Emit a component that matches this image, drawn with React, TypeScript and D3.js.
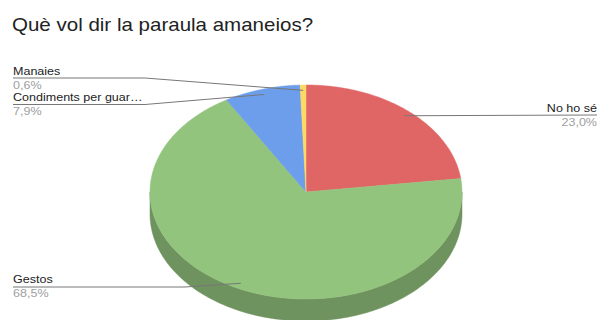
import React from "react";
import * as d3 from "d3";

const title = "Què vol dir la paraula amaneios?";
const categories = ["No ho sé", "Gestos", "Condiments per guar…", "Manaies"];
const values = [23.0, 68.5, 7.9, 0.6];
const percentLabels = ["23,0%", "68,5%", "7,9%", "0,6%"];
const colors = ["#e06666", "#93c47d", "#6d9eeb", "#ffd966"];

const labelLayout = [
  { x: 597, y: 112, lineY: 115, elbow: 597, anchor: "end" },
  { x: 13, y: 283, lineY: 287, elbow: 185, anchor: "start" },
  { x: 13, y: 101, lineY: 104.5, elbow: 145, anchor: "start" },
  { x: 13, y: 75, lineY: 78, elbow: 145, anchor: "start" },
];

const W = 600;
const H = 320;
const cx = 306;
const cy = 192;
const rx = 156;
const ry = 107;
const depth = 22;
const stretch = 1.14;

function pt(a: number, f = 1, dy = 0): [number, number] {
  return [cx + rx * f * Math.sin(a), cy - ry * f * Math.cos(a) + dy];
}

function arcPoints(a0: number, a1: number, dy = 0): [number, number][] {
  const n = Math.max(2, Math.ceil(Math.abs(a1 - a0) / 0.02));
  const pts: [number, number][] = [];
  for (let i = 0; i <= n; i++) {
    pts.push(pt(a0 + ((a1 - a0) * i) / n, 1, dy));
  }
  return pts;
}

const FONT = "Liberation Sans, Arial, sans-serif";

export default function App() {
  const pie = d3.pie<number>().sort(null).value((d) => d);
  const arcs = pie(values);
  const line = d3.line();

  const sides: { d: string; color: string }[] = [];
  arcs.forEach((a, i) => {
    const lo = Math.max(a.startAngle, Math.PI / 2);
    const hi = Math.min(a.endAngle, (3 * Math.PI) / 2);
    if (hi > lo) {
      const top = arcPoints(lo, hi, 0);
      const bottom = arcPoints(hi, lo, depth);
      const c = d3.color(colors[i])!.darker(0.8).formatHex();
      sides.push({ d: line([...top, ...bottom])! + "Z", color: c });
    }
  });

  const tops = arcs.map((a, i) => {
    const pts: [number, number][] = [[cx, cy], ...arcPoints(a.startAngle, a.endAngle)];
    return { d: line(pts)! + "Z", color: colors[i] };
  });

  const labels = arcs.map((a, i) => {
    const mid = (a.startAngle + a.endAngle) / 2;
    const [ax, ay] = pt(mid, 0.95);
    const L = labelLayout[i];
    const pts: [number, number][] =
      L.anchor === "end"
        ? [[ax, ay], [L.x, L.lineY]]
        : [[L.x, L.lineY], [L.elbow, L.lineY], [ax, ay]];
    return { L, pts, i };
  });

  return (
    <svg width={W} height={H} style={{ display: "block", position: "absolute", left: 0, top: 0 }}>
      <rect width={W} height={H} fill="#ffffff" />
      <text
        transform={`translate(12,31) scale(${stretch},1)`}
        fontFamily={FONT}
        fontSize={18}
        fill="#222222"
      >
        {title}
      </text>
      {sides.map((s, i) => (
        <path key={"s" + i} d={s.d} fill={s.color} stroke={s.color} strokeWidth={0.5} />
      ))}
      {tops.map((t, i) => (
        <path key={"t" + i} d={t.d} fill={t.color} stroke={t.color} strokeWidth={0.5} />
      ))}
      {labels.map(({ L, pts, i }) => (
        <g key={"l" + i} fontFamily={FONT} fontSize={11}>
          <path d={line(pts)!} fill="none" stroke="#777777" strokeWidth={1} />
          <g transform={`translate(${L.x},${L.y}) scale(${stretch},1)`}>
            <text x={0} y={0} textAnchor={L.anchor as any} fill="#222222">
              {categories[i]}
            </text>
            <text x={0} y={14} textAnchor={L.anchor as any} fill="#a0a0a0">
              {percentLabels[i]}
            </text>
          </g>
        </g>
      ))}
    </svg>
  );
}
